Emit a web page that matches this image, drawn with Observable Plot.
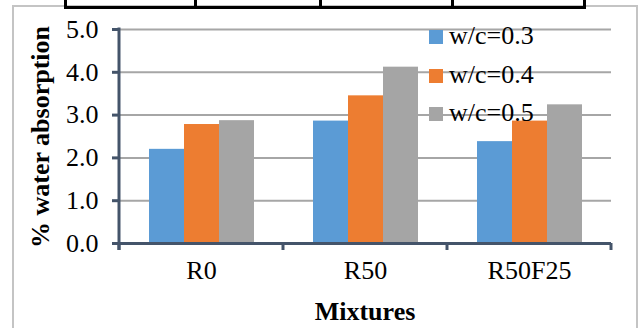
<!DOCTYPE html>
<html><head><meta charset="utf-8">
<script src="https://cdn.jsdelivr.net/npm/d3@7"></script>
<script src="https://cdn.jsdelivr.net/npm/@observablehq/plot@0.6"></script>
<style>
body{margin:0;background:#fff;}
#wrap{position:relative;width:641px;height:328px;overflow:hidden;font-family:"Liberation Serif","Times New Roman",serif;background:#fff;}
#border{position:absolute;left:12px;top:5px;width:622px;height:340px;border:2px solid #c4c4c4;}
#table{position:absolute;left:64px;top:-5px;width:516px;height:8px;border:3px solid #000;}
.div{position:absolute;top:0;width:3px;height:8px;background:#000;}
#plotbox{position:absolute;left:0;top:0;}
.leg{position:absolute;left:429px;font-size:26px;line-height:26px;height:26px;color:#000;white-space:nowrap;}
.leg span{display:inline-block;width:14px;height:14px;margin-right:6px;vertical-align:0px;}
#ytitle{position:absolute;left:41px;top:137px;transform:translate(-50%,-50%) rotate(-90deg);font-weight:bold;font-size:26px;white-space:nowrap;}
#xtitle{position:absolute;left:365px;top:312px;transform:translate(-50%,-50%);font-weight:bold;font-size:26px;white-space:nowrap;}
</style></head><body>
<div id="wrap">
  <div id="border"></div>
  <div id="table"><div class="div" style="left:127px"></div><div class="div" style="left:252px"></div><div class="div" style="left:384px"></div></div>
  <div id="plotbox"></div>
  <div id="ytitle">% water absorption</div>
  <div id="xtitle">Mixtures</div>
</div>
<script>
const mixtures = ["R0", "R50", "R50F25"];
const series = ["w/c=0.3", "w/c=0.4", "w/c=0.5"];
const wc03 = [2.2, 2.86, 2.38];
const wc04 = [2.78, 3.45, 2.86];
const wc05 = [2.87, 4.12, 3.24];
const yTicks = [0, 1, 2, 3, 4, 5];
const colors = ["#5b9bd5", "#ed7d31", "#a5a5a5"];

const valuesBySeries = [wc03, wc04, wc05];
const rows = mixtures.flatMap((m, i) => series.map((s, j) => ({mixture: m, series: s, value: valuesBySeries[j][i]})));

const axisColor = "#44546a";
const plot = Plot.plot({
  width: 641, height: 328,
  marginLeft: 119, marginRight: 30, marginTop: 29, marginBottom: 85,
  style: {background: "transparent", fontFamily: "'Liberation Serif', serif", fontSize: "26px", color: "#000", overflow: "visible"},
  fx: {domain: mixtures, padding: 0, label: null},
  x: {domain: series, paddingInner: 0, paddingOuter: 0.78, axis: null},
  y: {domain: [0, 5], label: null},
  color: {domain: series, range: colors},
  marks: [
    Plot.gridY(yTicks, {stroke: "#a6a6a6", strokeOpacity: 1, strokeWidth: 2}),
    Plot.barY(rows, {fx: "mixture", x: "series", y: "value", fill: "series"}),
    Plot.ruleY([0], {stroke: axisColor, strokeWidth: 3}),
    Plot.axisY(yTicks, {tickSize: 7, tickPadding: 14, tickFormat: d => d.toFixed(1), stroke: axisColor, strokeWidth: 3, fill: "#000", fontSize: 26, label: null}),
    Plot.axisFx({anchor: "bottom", tickSize: 0, tickPadding: 17, fontSize: 26, fill: "#000", label: null})
  ]
});
document.getElementById("plotbox").appendChild(plot);

// axis lines drawn through the plot's own scales
const ys = plot.scale("y");
const fxs = plot.scale("fx");
const y0 = ys.apply(0), yTop = ys.apply(5);
const bw = fxs.bandwidth;
const left = fxs.apply(mixtures[0]);
const bounds = mixtures.map(m => fxs.apply(m)).concat([fxs.apply(mixtures[mixtures.length - 1]) + bw]);
const g = d3.select(plot).append("g").attr("stroke", axisColor).attr("stroke-width", 3);
g.append("line").attr("x1", left).attr("x2", left).attr("y1", yTop - 1.5).attr("y2", y0 + 7);
bounds.forEach(b => g.append("line").attr("x1", b).attr("x2", b).attr("y1", y0).attr("y2", y0 + 7));

// legend
series.forEach((s, j) => {
  const d = document.createElement("div");
  d.className = "leg";
  d.style.top = (23 + j * 38.5) + "px";
  d.innerHTML = `<span style="background:${colors[j]}"></span>${s}`;
  document.getElementById("wrap").appendChild(d);
});
</script>
</body></html>
